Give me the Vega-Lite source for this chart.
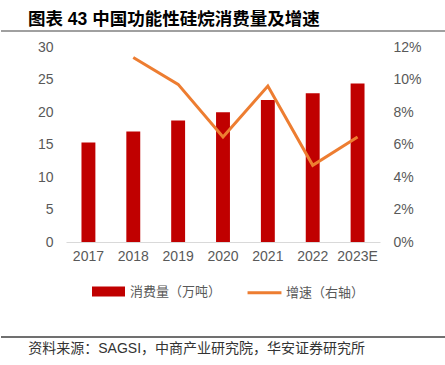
{
  "$schema": "https://vega.github.io/schema/vega-lite/v6.json",
  "padding": {"top": 10, "left": 0, "right": 0, "bottom": 0},
  "spacing": 0,
  "resolve": {"scale": {"x": "independent", "y": "independent"}},
  "config": {"view": {"stroke": null}, "font": "Liberation Sans"},
  "vconcat": [
    {
      "width": 445,
      "height": 9,
      "title": {"text": "图表 43 中国功能性硅烷消费量及增速", "anchor": "start", "dx": 28, "offset": 2, "fontSize": 17.5, "fontWeight": "bold", "font": "Liberation Sans, Noto Sans CJK SC", "color": "#000000"},
      "data": {"values": [{"part": "header"}]},
      "mark": {"type": "rule", "color": "#a0a0a0", "strokeWidth": 2},
      "encoding": {
        "x": {"datum": 0, "type": "quantitative", "scale": {"domain": [0, 1]}, "axis": null},
        "x2": {"datum": 1},
        "y": {"datum": 1, "type": "quantitative", "scale": {"domain": [0, 1]}, "axis": null}
      }
    },
    {
      "hconcat": [
        {
          "width": 1,
          "height": 1,
          "data": {"values": []},
          "mark": "point",
          "encoding": {}
        },
        {
          "width": 314,
          "height": 195,
          "data": {"values": [
            {"year": "2017", "volume": 15.3, "growth": null},
            {"year": "2018", "volume": 17.0, "growth": 0.1135},
            {"year": "2019", "volume": 18.7, "growth": 0.097},
            {"year": "2020", "volume": 19.95, "growth": 0.0646},
            {"year": "2021", "volume": 21.85, "growth": 0.096},
            {"year": "2022", "volume": 22.9, "growth": 0.0472},
            {"year": "2023E", "volume": 24.4, "growth": 0.0646}
          ]},
          "encoding": {
            "x": {"field": "year", "type": "ordinal", "sort": null,
              "scale": {"paddingInner": 0.69, "paddingOuter": 0.345},
              "axis": {"title": null, "labelAngle": 0, "labelFontSize": 14, "labelColor": "#595959", "labelPadding": 7, "ticks": false, "domainColor": "#d9d9d9", "domainWidth": 1, "labelFont": "Liberation Sans"}}
          },
          "layer": [
            {
              "mark": {"type": "bar"},
              "encoding": {
                "y": {"field": "volume", "type": "quantitative", "scale": {"domain": [0, 30]},
                  "axis": {"title": null, "values": [0, 5, 10, 15, 20, 25, 30], "grid": false, "domain": false, "ticks": false, "labelPadding": 13, "labelFontSize": 14, "labelColor": "#595959", "labelFont": "Liberation Sans"}},
                "color": {"datum": "消费量（万吨）", "type": "nominal",
                  "scale": {"domain": ["消费量（万吨）", "增速（右轴）"], "range": ["#c00000", "#ed7d31"]},
                  "legend": {"orient": "none", "legendX": 91, "legendY": 244, "direction": "horizontal", "title": null,
                    "symbolSize": 900, "labelFontSize": 13, "labelColor": "#595959", "labelFont": "Noto Sans CJK SC",
                    "labelOffset": 5, "columnPadding": 19,
                    "encode": {"symbols": {"update": {
                      "shape": {"signal": "datum.value === '消费量（万吨）' ? 'M-1,-0.23H1V0.23H-1Z' : 'M-1.13,0H1.13'"},
                      "fill": {"signal": "datum.value === '消费量（万吨）' ? '#c00000' : 'transparent'"},
                      "stroke": {"signal": "datum.value === '消费量（万吨）' ? 'transparent' : '#ed7d31'"},
                      "strokeWidth": {"value": 3},
                      "opacity": {"value": 1},
                      "fillOpacity": {"value": 1},
                      "strokeOpacity": {"value": 1}
                    }}}}
                }
              }
            },
            {
              "mark": {"type": "line", "strokeWidth": 3},
              "encoding": {
                "y": {"field": "growth", "type": "quantitative", "scale": {"domain": [0, 0.12]},
                  "axis": {"orient": "right", "title": null, "format": ".0%", "values": [0, 0.02, 0.04, 0.06, 0.08, 0.1, 0.12], "grid": false, "domain": false, "ticks": false, "labelPadding": 13, "labelFontSize": 14, "labelColor": "#595959", "labelFont": "Liberation Sans"}},
                "color": {"datum": "增速（右轴）", "type": "nominal"}
              }
            }
          ],
          "resolve": {"scale": {"y": "independent"}}
        }
      ],
      "spacing": 35,
      "resolve": {"scale": {"x": "independent", "y": "independent"}}
    },
    {
      "width": 445,
      "height": 74,
      "title": {"text": "资料来源：SAGSI，中商产业研究院，华安证券研究所", "orient": "bottom", "anchor": "start", "dx": 28, "offset": 4, "fontSize": 14, "fontWeight": "normal", "font": "Liberation Sans, Noto Sans CJK SC", "color": "#333333"},
      "data": {"values": [{"part": "footer"}]},
      "mark": {"type": "rule", "color": "#404040", "strokeWidth": 1.5},
      "encoding": {
        "x": {"datum": 0, "type": "quantitative", "scale": {"domain": [0, 1]}, "axis": null},
        "x2": {"datum": 1},
        "y": {"datum": 0, "type": "quantitative", "scale": {"domain": [0, 1]}, "axis": null}
      }
    }
  ]
}
